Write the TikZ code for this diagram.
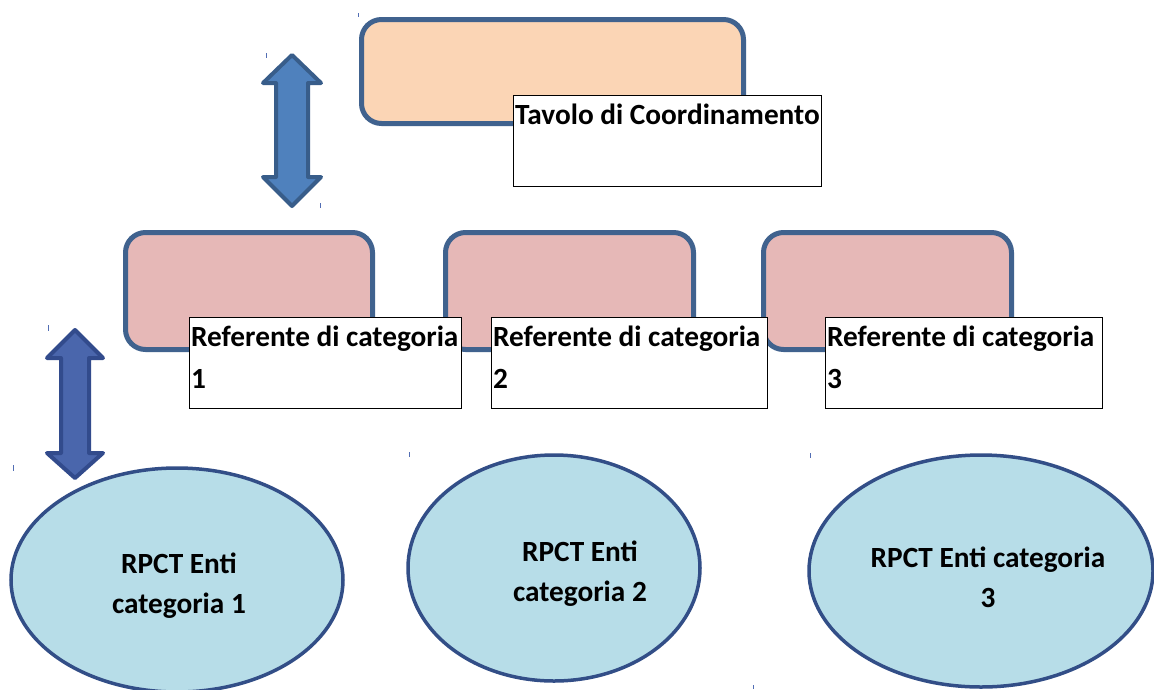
\documentclass[tikz,border=0pt]{standalone}
\usepackage{fontspec}
\setmainfont{Carlito}
\usetikzlibrary{shapes.geometric}
\definecolor{boxline}{RGB}{64,98,142}
\definecolor{peach}{RGB}{251,213,181}
\definecolor{pinkfill}{RGB}{230,184,183}
\definecolor{ellfill}{RGB}{183,221,232}
\definecolor{elline}{RGB}{50,78,135}
\definecolor{arrAfill}{RGB}{79,129,189}
\definecolor{arrAline}{RGB}{56,93,138}
\definecolor{arrBfill}{RGB}{74,102,172}
\definecolor{arrBline}{RGB}{50,75,140}
\definecolor{tickc}{RGB}{82,110,180}
\begin{document}
\begin{tikzpicture}[x=1pt,y=-1pt,
  rbox/.style={draw=boxline, line width=5pt, rounded corners=20pt, anchor=north west, inner sep=0pt},
  tbox/.style={draw=black, line width=1.2pt, fill=white, anchor=north west, inner sep=1.5pt,
     font=\bfseries\fontsize{29.3}{42}\selectfont},
  ell/.style={ellipse, draw=elline, line width=3.5pt, fill=ellfill, inner sep=0pt},
  etext/.style={align=center, font=\bfseries\fontsize{29.3}{40}\selectfont, inner sep=0pt},
  arrA/.style={draw=arrAline, fill=arrAfill, line width=4pt, line join=round},
  arrB/.style={draw=arrBline, fill=arrBfill, line width=4pt, line join=round},
  tickmark/.style={draw=tickc, line width=1pt}
]
\fill[white] (0,0) rectangle (1154,689);
\useasboundingbox (0,0) rectangle (1154,689);

% top box
\node[rbox, fill=peach, minimum width=382pt, minimum height=104pt] (top) at (359,17) {};
\node[tbox] (toptext) at (513,95) {\parbox[t][88pt][t]{305pt}{\raggedright\rule{0pt}{27pt}Tavolo di Coordinamento}};

% middle boxes
\node[rbox, fill=pinkfill, minimum width=247pt, minimum height=117pt] (r1) at (123,230) {};
\node[rbox, fill=pinkfill, minimum width=248pt, minimum height=117pt] (r2) at (443,230) {};
\node[rbox, fill=pinkfill, minimum width=248pt, minimum height=117pt] (r3) at (761,230) {};

\node[tbox] (rt1) at (189,317) {\parbox[t][88pt][t]{269pt}{\raggedright\rule{0pt}{27pt}Referente di categoria\\1}};
\node[tbox] (rt2) at (491,317) {\parbox[t][88pt][t]{273pt}{\raggedright\rule{0pt}{27pt}Referente di categoria\\2}};
\node[tbox] (rt3) at (825,317) {\parbox[t][88pt][t]{274pt}{\raggedright\rule{0pt}{27pt}Referente di categoria\\3}};

% arrows
\draw[arrA] (292,55) -- (321,83) -- (308,83) -- (308,177) -- (321,177) -- (292,206)
  -- (263,177) -- (276,177) -- (276,83) -- (263,83) -- cycle;
\draw[arrB] (75,330) -- (103,358) -- (89,358) -- (89,453) -- (103,453) -- (75,478)
  -- (47,453) -- (61,453) -- (61,358) -- (47,358) -- cycle;

% ellipses
\node[ell, minimum width=332pt, minimum height=224pt] (e1) at (177,580) {};
\node[etext] (l1) at (179,586) {RPCT Enti\\categoria 1};
\node[ell, minimum width=292pt, minimum height=226pt] (e2) at (554,568) {};
\node[etext] (l2) at (580,574) {RPCT Enti\\categoria 2};
\node[ell, minimum width=344pt, minimum height=232pt] (e3) at (981,571) {};
\node[etext] (l3) at (988,577) {RPCT Enti categoria\\3};

% small handle marks
\draw[tickmark] (266,53) -- (266,58);
\draw[tickmark] (320,203) -- (320,208);
\draw[tickmark] (48,325) -- (48,331);
\draw[tickmark] (13,465) -- (13,471);
\draw[tickmark] (409,452) -- (409,457);
\draw[tickmark] (810,453) -- (810,458);
\draw[tickmark] (753,685) -- (753,689);
\draw[tickmark] (358,13) -- (358,17);
\end{tikzpicture}
\end{document}
